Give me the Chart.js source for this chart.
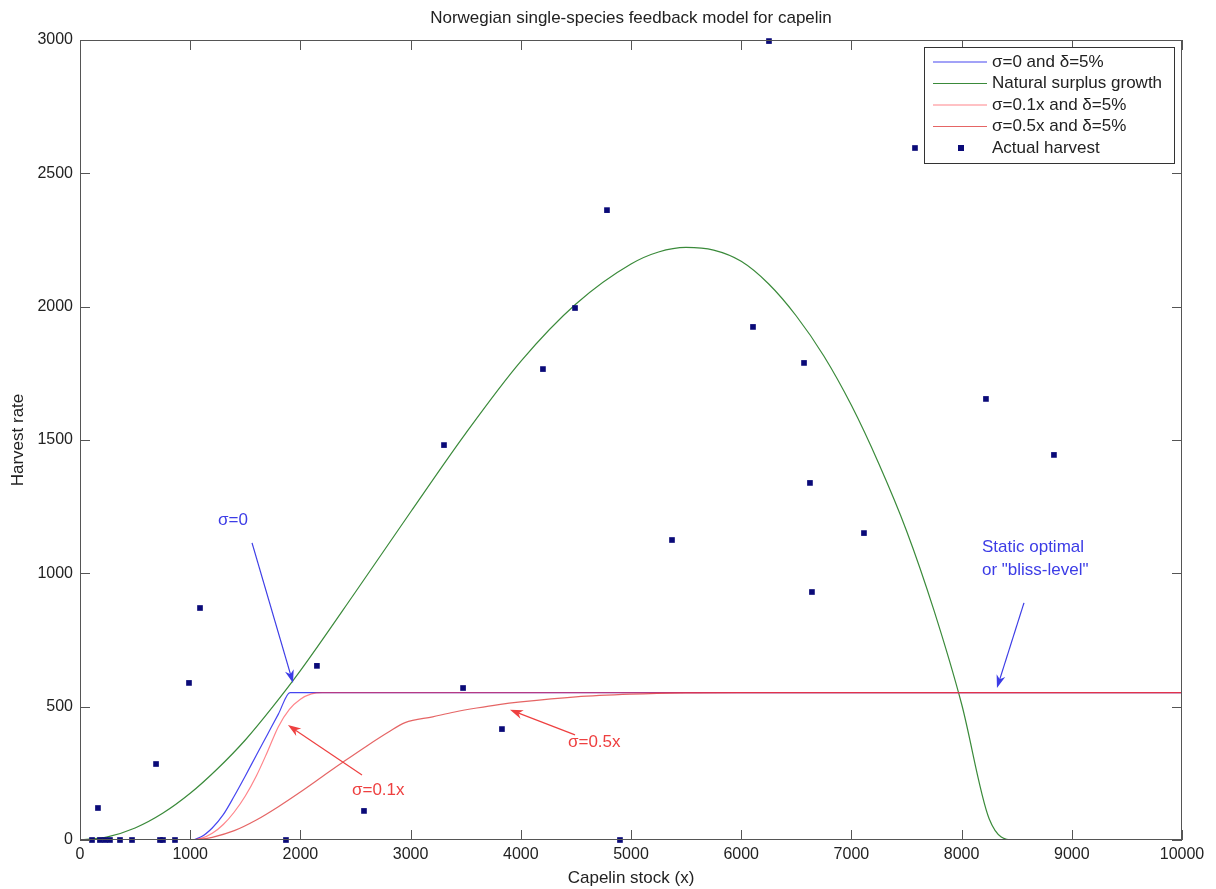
<!DOCTYPE html>
<html>
<head>
<meta charset="utf-8">
<script src="https://cdn.jsdelivr.net/npm/chart.js@4.4.0/dist/chart.umd.min.js"></script>
<style>
  body { margin: 0; background: #fff; }
</style>
</head>
<body>
<canvas id="capelinChart" width="1216" height="889"></canvas>
<script>
// tick labels
const xTicks = [0, 1000, 2000, 3000, 4000, 5000, 6000, 7000, 8000, 9000, 10000];
const yTicks = [0, 500, 1000, 1500, 2000, 2500, 3000];

// sigma = 0, delta = 5%
const sigma0X = [0, 1000, 1100, 1200, 1300, 1400, 1500, 1600, 1700, 1800, 1906, 10000];
const sigma0Y = [0, 0, 12, 45, 95, 165, 240, 318, 395, 472, 553, 553];

// natural surplus growth
const growthX = [0, 250, 500, 750, 1000, 1250, 1500, 1750, 2000, 2500, 3000, 3500, 4000, 4500, 5000,
                 5250, 5500, 5750, 6000, 6250, 6500, 6750, 7000, 7250, 7500, 7750, 8000, 8250, 8470, 10000];
const growthY = [0, 12, 45, 100, 175, 268, 375, 500, 635, 930, 1230, 1525, 1795, 2010, 2160,
                 2205, 2222, 2212, 2170, 2085, 1965, 1815, 1630, 1410, 1160, 860, 510, 80, 0, 0];

// sigma = 0.1x, delta = 5%
const sigma01X = [0, 1000, 1100, 1200, 1300, 1400, 1500, 1600, 1700, 1800, 1900, 2000, 2100, 2200, 10000];
const sigma01Y = [0, 0, 6, 25, 58, 105, 165, 240, 330, 425, 490, 528, 548, 553, 553];

// sigma = 0.5x, delta = 5%
const sigma05X = [0, 1000, 1100, 1200, 1400, 1600, 1800, 2000, 2200, 2400, 2600, 2800, 2950, 3200, 3400,
                  3600, 3800, 4000, 4500, 5000, 5500, 6000, 10000];
const sigma05Y = [0, 0, 3, 10, 35, 75, 125, 180, 238, 296, 352, 405, 440, 462, 480,
                  495, 508, 518, 537, 547, 552, 553, 553];

// actual harvest (stock, catch)
const harvestX = [6252, 7577, 4782, 4492, 6107, 6570, 4201, 8221, 3303, 8838, 6624, 7114, 5372, 6642,
                  1089, 2150, 989, 3476, 3829, 690, 163, 2577,
                  109, 181, 227, 272, 363, 472, 726, 753, 862, 1869, 4900];
const harvestY = [2996, 2595, 2362, 1995, 1924, 1789, 1766, 1654, 1481, 1444, 1339, 1151, 1125, 930,
                  870, 653, 589, 570, 416, 285, 120, 109,
                  0, 0, 0, 0, 0, 0, 0, 0, 0, 0, 0];

const pts = (xs, ys) => xs.map((x, i) => ({ x: x, y: ys[i] }));

const FONT = '"Liberation Sans", Arial, sans-serif';
const BLUE = '#4646f0';
const RED = 'rgba(255, 50, 60, 0.6)';
const DARKRED = 'rgba(220, 50, 50, 0.75)';

// text notes with arrows, in data units
const notes = [
  { lines: ['σ=0'], color: '#3c3ce6', at: [1252, 1200], from: [1561, 1114], to: [1933, 589] },
  { lines: ['σ=0.1x'], color: '#ee4040', at: [2468, 188], from: [2559, 244], to: [1887, 431] },
  { lines: ['σ=0.5x'], color: '#ee4040', at: [4428, 368], from: [4492, 394], to: [3902, 488] },
  { lines: ['Static optimal', 'or "bliss-level"'], color: '#3c3ce6', at: [8185, 1099], from: [8566, 889], to: [8321, 570] }
];

function arrow(ctx, x1, y1, x2, y2, color) {
  const ang = Math.atan2(y2 - y1, x2 - x1);
  const len = 13, half = 4.5;
  ctx.strokeStyle = color;
  ctx.fillStyle = color;
  ctx.lineWidth = 1.2;
  ctx.beginPath();
  ctx.moveTo(x1, y1);
  ctx.lineTo(x2 - Math.cos(ang) * len * 0.6, y2 - Math.sin(ang) * len * 0.6);
  ctx.stroke();
  ctx.beginPath();
  ctx.moveTo(x2, y2);
  ctx.lineTo(x2 - Math.cos(ang) * len - Math.sin(ang) * half, y2 - Math.sin(ang) * len + Math.cos(ang) * half);
  ctx.lineTo(x2 - Math.cos(ang) * len * 0.7, y2 - Math.sin(ang) * len * 0.7);
  ctx.lineTo(x2 - Math.cos(ang) * len + Math.sin(ang) * half, y2 - Math.sin(ang) * len - Math.cos(ang) * half);
  ctx.closePath();
  ctx.fill();
}

const matlabFrame = {
  id: 'matlabFrame',
  afterDraw(chart) {
    const { ctx, chartArea: a, scales: { x, y } } = chart;
    ctx.save();

    // box and inward ticks
    ctx.strokeStyle = '#555';
    ctx.lineWidth = 1;
    ctx.strokeRect(a.left + 0.5, a.top + 0.5, a.right - a.left - 1, a.bottom - a.top - 1);
    ctx.beginPath();
    xTicks.forEach(v => {
      const px = Math.round(x.getPixelForValue(v)) + 0.5;
      ctx.moveTo(px, a.bottom); ctx.lineTo(px, a.bottom - 10);
      ctx.moveTo(px, a.top); ctx.lineTo(px, a.top + 10);
    });
    yTicks.forEach(v => {
      const py = Math.round(y.getPixelForValue(v)) + 0.5;
      ctx.moveTo(a.left, py); ctx.lineTo(a.left + 10, py);
      ctx.moveTo(a.right, py); ctx.lineTo(a.right - 10, py);
    });
    ctx.stroke();

    // title
    ctx.fillStyle = '#222';
    ctx.font = '17px ' + FONT;
    ctx.textAlign = 'center';
    ctx.textBaseline = 'middle';
    ctx.fillText('Norwegian single-species feedback model for capelin', (a.left + a.right) / 2, 18);

    // notes
    ctx.textAlign = 'left';
    notes.forEach(n => {
      ctx.fillStyle = n.color;
      ctx.font = '17px ' + FONT;
      n.lines.forEach((t, i) => {
        ctx.fillText(t, x.getPixelForValue(n.at[0]), y.getPixelForValue(n.at[1]) + i * 23);
      });
      arrow(ctx, x.getPixelForValue(n.from[0]), y.getPixelForValue(n.from[1]),
            x.getPixelForValue(n.to[0]), y.getPixelForValue(n.to[1]), n.color);
    });

    // legend
    const lx = 924, ly = 47, lw = 250, lh = 116;
    ctx.fillStyle = '#fff';
    ctx.fillRect(lx, ly, lw, lh);
    ctx.strokeStyle = '#333';
    ctx.lineWidth = 1;
    ctx.strokeRect(lx + 0.5, ly + 0.5, lw, lh);
    ctx.font = '17px ' + FONT;
    ctx.textAlign = 'left';
    chart.data.datasets.forEach((ds, i) => {
      const ry = ly + 15 + i * 21.5;
      if (ds.showLine) {
        ctx.strokeStyle = ds.borderColor;
        ctx.lineWidth = 1.2;
        ctx.beginPath();
        ctx.moveTo(lx + 9, ry); ctx.lineTo(lx + 63, ry);
        ctx.stroke();
      } else {
        ctx.fillStyle = ds.backgroundColor;
        ctx.fillRect(lx + 34, ry - 3, 6, 6);
      }
      ctx.fillStyle = '#222';
      ctx.fillText(ds.label, lx + 68, ry);
    });
    ctx.restore();
  }
};

const lineSet = (label, data, color, order) => ({
  label: label,
  data: data,
  showLine: true,
  borderColor: color,
  borderWidth: 1.2,
  pointRadius: 0,
  cubicInterpolationMode: 'monotone',
  order: order
});

new Chart(document.getElementById('capelinChart').getContext('2d'), {
  type: 'scatter',
  data: {
    datasets: [
      lineSet('σ=0 and δ=5%', pts(sigma0X, sigma0Y), BLUE, 2),
      lineSet('Natural surplus growth', pts(growthX, growthY), '#3a8a3a', 3),
      lineSet('σ=0.1x and δ=5%', pts(sigma01X, sigma01Y), RED, 1),
      lineSet('σ=0.5x and δ=5%', pts(sigma05X, sigma05Y), DARKRED, 1),
      {
        label: 'Actual harvest',
        data: pts(harvestX, harvestY),
        showLine: false,
        pointStyle: 'rect',
        pointRadius: 4,
        pointBorderWidth: 0,
        backgroundColor: '#0a0a78',
        borderColor: '#0a0a78',
        clip: false,
        order: 0
      }
    ]
  },
  options: {
    responsive: false,
    animation: false,
    devicePixelRatio: 1,
    layout: { padding: { top: 40, right: 34, left: 0, bottom: 0 } },
    plugins: {
      legend: { display: false },
      title: { display: false },
      tooltip: { enabled: false }
    },
    scales: {
      x: {
        type: 'linear',
        min: 0,
        max: 10000,
        afterBuildTicks: s => { s.ticks = xTicks.map(v => ({ value: v })); },
        afterFit: s => { s.height = 49; },
        ticks: { color: '#222', font: { size: 16, family: FONT }, padding: 5, maxRotation: 0, callback: v => String(v) },
        grid: { display: false, drawTicks: false },
        border: { display: false },
        title: { display: true, text: 'Capelin stock (x)', color: '#222', font: { size: 17, family: FONT }, padding: { top: 0, bottom: 0 } }
      },
      y: {
        type: 'linear',
        min: 0,
        max: 3000,
        afterBuildTicks: s => { s.ticks = yTicks.map(v => ({ value: v })); },
        afterFit: s => { s.width = 80; },
        ticks: { color: '#222', font: { size: 16, family: FONT }, padding: 7, callback: v => String(v) },
        grid: { display: false, drawTicks: false },
        border: { display: false },
        title: { display: true, text: 'Harvest rate', color: '#222', font: { size: 17, family: FONT }, padding: { top: 8, bottom: 0 } }
      }
    }
  },
  plugins: [matlabFrame]
});
</script>
</body>
</html>
